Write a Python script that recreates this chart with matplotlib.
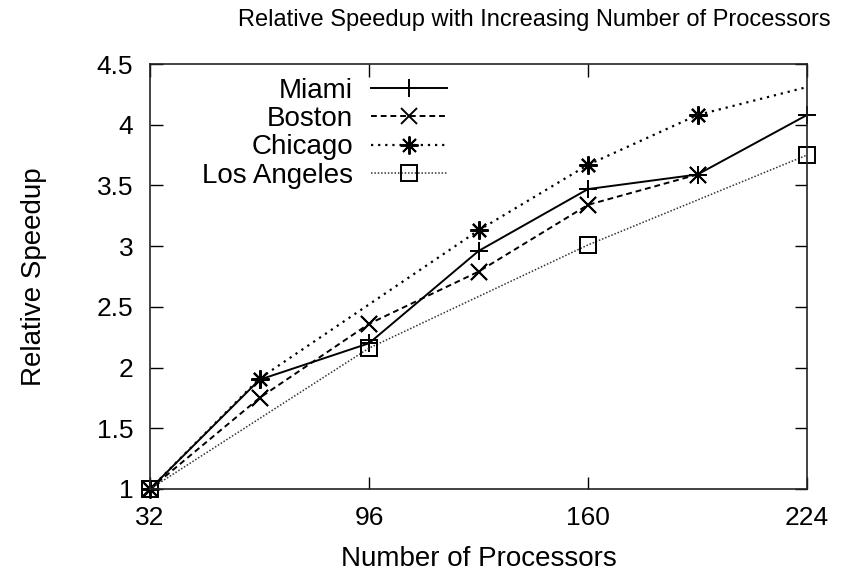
import matplotlib
matplotlib.use("Agg")
import matplotlib.pyplot as plt
import numpy as np

plt.rcParams['font.family'] = ['Liberation Sans', 'DejaVu Sans']

procs_miami = [32, 64, 96, 128, 160, 192, 224]
miami = [1.0, 1.90, 2.20, 2.96, 3.47, 3.59, 4.08]

procs_boston = [32, 64, 96, 128, 160, 192]
boston = [1.0, 1.75, 2.36, 2.79, 3.34, 3.59]

procs_chicago = [32, 64, 128, 160, 192, 256]
chicago = [1.0, 1.91, 3.13, 3.67, 4.08, 4.54]

procs_la = [32, 96, 160, 224]
los_angeles = [1.0, 2.16, 3.01, 3.75]

xticks = [32, 96, 160, 224]
yticks = [1, 1.5, 2, 2.5, 3, 3.5, 4, 4.5]
ytick_labels = ['1', '1.5', '2', '2.5', '3', '3.5', '4', '4.5']

fig = plt.figure(figsize=(8.52, 5.76), dpi=100)
ax = fig.add_axes([150/852, 1-489/576, (807-150)/852, (489-64)/576])

series = [
    (procs_miami, miami, 'Miami', dict(color='black', lw=1.4, ls='-'),
     dict(marker='+', ms=13, mew=1.4)),
    (procs_boston, boston, 'Boston', dict(color='black', lw=1.4, ls=(0, (3, 2))),
     dict(marker='x', ms=11, mew=1.4)),
    (procs_chicago, chicago, 'Chicago', dict(color='black', lw=1.6, ls=(0, (1, 2.2))),
     dict(marker=(8, 2, 0), ms=13, mew=1.4)),
    (procs_la, los_angeles, 'Los Angeles', dict(color='#333333', lw=1.1, ls=(0, (1, 1.2))),
     dict(marker='s', ms=11, mew=1.4, mfc='none', mec='black')),
]

xmax = 224
for xs, ys, name, lstyle, mstyle in series:
    ax.plot(xs, ys, label=name, **lstyle, **mstyle)
    # redraw markers unclipped so the ones on the frame are whole
    xs_a = np.array(xs)
    ys_a = np.array(ys)
    keep = xs_a <= xmax
    ax.plot(xs_a[keep], ys_a[keep], ls='none', color='black', clip_on=False, **mstyle)

ax.set_xlim(32, xmax)
ax.set_ylim(1, 4.5)
ax.set_xticks(xticks)
ax.set_yticks(yticks)
ax.set_yticklabels(ytick_labels)
ax.tick_params(direction='in', top=True, right=True, length=9, width=1,
               labelsize=19)
ax.tick_params(axis='y', pad=12)
ax.tick_params(axis='x', pad=12)
for s in ax.spines.values():
    s.set_linewidth(1.2)
    s.set_color('#222222')

fig.text(534/852, 1-20/576, 'Relative Speedup with Increasing Number of Processors',
         fontsize=17, ha='center', va='center')
ax.set_xlabel('Number of Processors', fontsize=20, labelpad=12)
ax.set_ylabel('Relative Speedup', fontsize=20)
ax.yaxis.set_label_coords((47-150)/(807-150), 0.5)

leg = ax.legend(loc='upper left', bbox_to_anchor=(0.058, 1.0), frameon=False,
                markerfirst=False, fontsize=20, handlelength=2.75,
                labelspacing=0.08, handletextpad=0.65, borderaxespad=0.1)
for t in leg.get_texts():
    t.set_ha('right')
leg._legend_box.align = 'right'

fig.savefig('out.png', dpi=100)
